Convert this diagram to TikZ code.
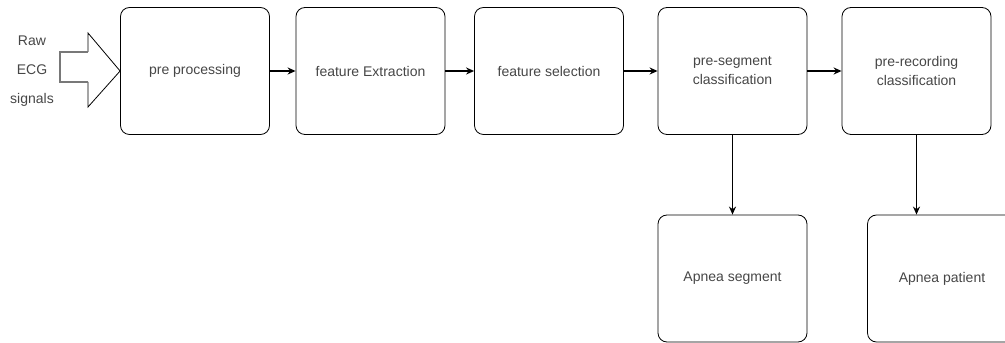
\documentclass[tikz,border=0pt]{standalone}
\usepackage{fontspec}
\setmainfont{Liberation Sans}
\usetikzlibrary{arrows.meta, positioning}
\definecolor{txtgray}{RGB}{70,70,70}
\definecolor{shaftgray}{RGB}{120,120,120}

\begin{document}
\begin{tikzpicture}[x=1pt, y=1pt,
  every node/.style={font=\fontsize{14}{19}\selectfont, text=txtgray},
  box/.style={draw, rounded corners=9pt, line width=0.8pt, minimum width=149pt,
              minimum height=127pt, align=center, inner sep=2pt},
  link/.style={->, >={Stealth[length=8pt, width=7pt]}, line width=1.8pt}]
  \useasboundingbox (0,0) rectangle (1005,343);

  % Input label
  \node[align=center, font=\fontsize{14}{29}\selectfont] (raw) at (32,272)
    {Raw\\ECG\\signals};

  % Top row
  \node[box] (pre) at (195,272) {pre processing};
  \node[box] (fex) at (370.5,272) {feature Extraction};
  \node[box] (fsel) at (549,272) {feature selection};
  \node[box] (pseg) at (732.5,272) {pre-segment\\classification};
  \node[box] (prec) at (916.5,272) {pre-recording\\classification};

  % Bottom row
  \node[box] (aseg) at (732.5,64.5) {Apnea segment};
  \node[box] (apat) at (942,64.5) {Apnea patient};

  % Hollow input arrow
  \draw[line width=0.8pt] (88,291) -- (88,310) -- (pre.west) -- (88,236) -- (88,261);
  \draw[shaftgray, line width=2pt] (88,291) -- (60,291) -- (60,261) -- (88,261);

  % Arrows between boxes
  \draw[link] (pre) -- (fex);
  \draw[link] (fex) -- (fsel);
  \draw[link] (fsel) -- (pseg);
  \draw[link] (pseg) -- (prec);
  \draw[link] (pseg) -- (aseg);
  \draw[link] (prec.south) -- (prec.south |- apat.north);
\end{tikzpicture}
\end{document}
